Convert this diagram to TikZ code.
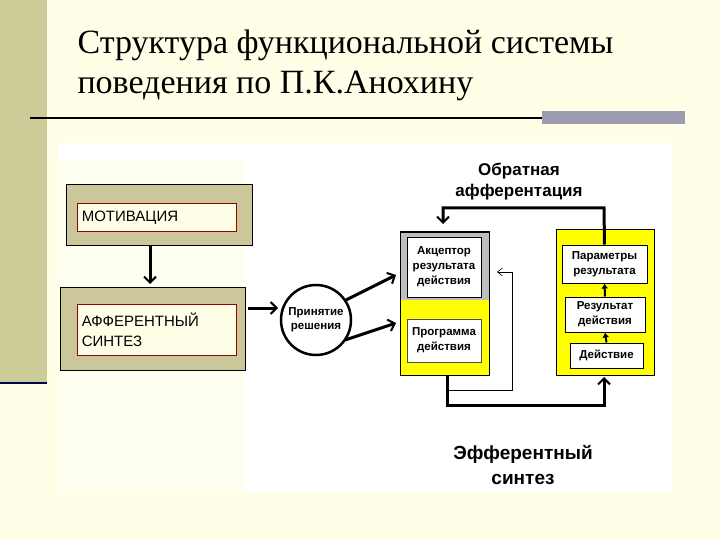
\documentclass[tikz,border=0pt]{standalone}
\usepackage{fontspec}
\setmainfont{Liberation Sans}
\newfontfamily\ttl{Liberation Serif}
\usetikzlibrary{arrows.meta}
\definecolor{cream}{HTML}{FFFFE8}
\definecolor{khaki}{HTML}{CCC79B}
\definecolor{band}{HTML}{CCCC99}
\definecolor{bargray}{HTML}{9C9CB0}
\definecolor{yel}{HTML}{FFFF00}
\definecolor{gr}{HTML}{BEBEBE}
\begin{document}
\begin{tikzpicture}[x=1pt,y=-1pt,
  outer/.style={draw=black,line width=1pt,fill=khaki},
  inner/.style={draw=red!60!black,line width=0.6pt,fill=cream,align=left,font=\fontsize{15}{20}\selectfont,inner sep=4pt,anchor=north west},
  wbox/.style={draw=black,line width=1pt,fill=white,align=center,font=\fontsize{11.5}{15}\selectfont\bfseries,inner sep=1pt},
  thick arrow/.style={line width=3pt,-{Straight Barb[length=6pt,width=12pt,line width=2pt]}},
  lbl/.style={align=center,font=\fontsize{17}{21}\selectfont\bfseries}]
\useasboundingbox (0,0) rectangle (720,540);
\fill[cream] (0,0) rectangle (720,540);
\fill[band] (0,0) rectangle (47,383);
\draw[line width=2pt,color=black!70!blue] (0,383) -- (47,383);
\node[anchor=north west,align=left,font=\ttl\fontsize{34}{40}\selectfont] (title) at (74,26) {Структура функциональной системы\\поведения по П.К.Анохину};
\draw[line width=2pt] (30,118) -- (542,118);
\fill[bargray] (542,111) rectangle (685,124);
\fill[white] (58,143) rectangle (672,492);
\fill[cream!60] (58,160) rectangle (245,492);
% left blocks
\draw[outer] (66,185) rectangle (252,245);
\node[inner,minimum width=159pt,minimum height=28pt,text width=150pt] (mot) at (77,203) {МОТИВАЦИЯ};
\draw[outer] (60,287) rectangle (245,370);
\node[inner,minimum width=159pt,minimum height=51pt,text width=150pt] (aff) at (77,304) {АФФЕРЕНТНЫЙ\\СИНТЕЗ};
\coordinate (m1) at (150,245); \coordinate (m2) at (150,284);
\draw[thick arrow] (m1) -- (m2);
% decision
\node[draw,line width=2.5pt,circle,minimum size=70pt,align=center,font=\fontsize{11.5}{14}\selectfont\bfseries,inner sep=0pt] (dec) at (316,320) {Принятие\\решения};
\coordinate (a1) at (248,308); \coordinate (a2) at (278,308);
\draw[thick arrow] (a1) -- (a2);
\coordinate (d1) at (346,300); \coordinate (d2) at (396,275);
\coordinate (d3) at (345,340); \coordinate (d4) at (396,323);
\draw[thick arrow] (d1) -- (d2);
\draw[thick arrow] (d3) -- (d4);
% left system block
\fill[gr] (400,232) rectangle (489,300);
\fill[yel] (400,300) rectangle (489,375);
\draw[line width=1pt] (400,232) rectangle (489,375);
\node[wbox,minimum width=74pt,minimum height=60pt] (acc) at (444,267) {Акцептор\\результата\\действия};
\node[wbox,minimum width=74pt,minimum height=43pt,draw=black!70] (prog) at (444,340.5) {Программа\\действия};
% right block
\draw[line width=1pt,fill=yel] (556,230) rectangle (654,375);
\node[wbox,minimum width=85pt,minimum height=38pt] (par) at (604.5,264) {Параметры\\результата};
\node[wbox,minimum width=80pt,minimum height=35pt] (res) at (605,314.5) {Результат\\действия};
\node[wbox,minimum width=73pt,minimum height=25pt] (act) at (606.5,355.5) {Действие};
\draw[line width=2pt,-{Latex[length=5pt,width=7pt]}] (act.north) -- (res.south);
\draw[line width=2pt,-{Latex[length=5pt,width=7pt]}] (res.north) -- (par.south);
% feedback
\coordinate (f1) at (604,208); \coordinate (f2) at (443,208);
\draw[line width=3pt,-{Straight Barb[length=6pt,width=12pt,line width=2pt]}] (par.north) -- (f1) -- (f2) -- (443,224);
\node[lbl] (obr) at (519,182) {Обратная\\афферентация};
% efferent
\coordinate (e1) at (447,405); \coordinate (e2) at (604,405);
\draw[line width=3pt,-{Straight Barb[length=6pt,width=12pt,line width=2pt]}] (447,375) -- (e1) -- (e2) -- (604,377);
\coordinate (t1) at (512,390);
\draw[line width=0.6pt,-{Straight Barb[length=5pt,width=8pt]}] (447,390) -- (t1) -- (512,272) -- (497,272);
\node[lbl,font=\fontsize{19}{25}\selectfont\bfseries] (eff) at (523,465) {Эфферентный\\синтез};
\end{tikzpicture}
\end{document}
